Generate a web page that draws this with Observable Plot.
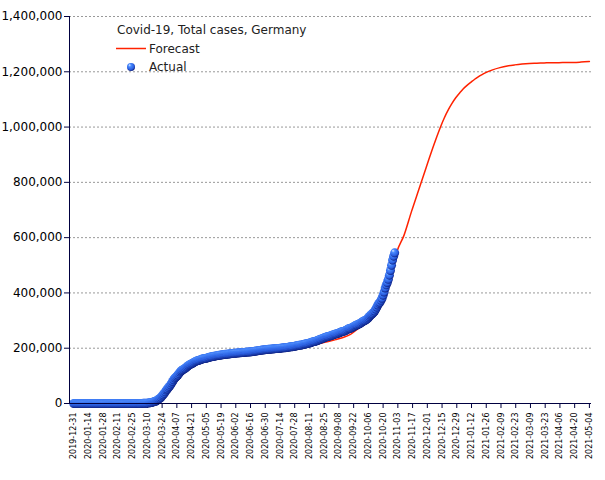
<!DOCTYPE html>
<html><head><meta charset="utf-8">
<script src="https://cdn.jsdelivr.net/npm/d3@7"></script>
<script src="https://cdn.jsdelivr.net/npm/@observablehq/plot@0.6"></script>
<style>
body{margin:0;background:#fff;}
#wrap{position:relative;width:605px;height:480px;font-family:"DejaVu Sans",sans-serif;}
#wrap svg.plot text{fill:#000;}
#legend{position:absolute;left:0;top:0;pointer-events:none;}
#legend text{font-family:"DejaVu Sans",sans-serif;font-size:12px;fill:#222;}
</style></head><body>
<div id="wrap">
<svg id="legend" width="605" height="100">
  <defs>
    <radialGradient id="ballLegend" cx="0.45" cy="0.4" r="0.6" fx="0.3" fy="0.25">
      <stop offset="0" stop-color="#e0ecff"/>
      <stop offset="0.3" stop-color="#4a8cff"/>
      <stop offset="0.75" stop-color="#2a5ee0"/>
      <stop offset="1" stop-color="#0c1f80"/>
    </radialGradient>
  </defs>
  <text x="117" y="34">Covid-19, Total cases, Germany</text>
  <line x1="116" x2="146" y1="48.5" y2="48.5" stroke="#ff2200" stroke-width="1.5"/>
  <text x="149" y="53">Forecast</text>
  <circle cx="131" cy="67" r="4" fill="url(#ballLegend)"/>
  <text x="149" y="71">Actual</text>
</svg>
</div>
<script>
// ---- data ----
const xTickLabels = ["2019-12-31","2020-01-14","2020-01-28","2020-02-11","2020-02-25","2020-03-10","2020-03-24","2020-04-07","2020-04-21","2020-05-05","2020-05-19","2020-06-02","2020-06-16","2020-06-30","2020-07-14","2020-07-28","2020-08-11","2020-08-25","2020-09-08","2020-09-22","2020-10-06","2020-10-20","2020-11-03","2020-11-17","2020-12-01","2020-12-15","2020-12-29","2021-01-12","2021-01-26","2021-02-09","2021-02-23","2021-03-09","2021-03-23","2021-04-06","2021-04-20","2021-05-04"];
const yTicks = [0,200000,400000,600000,800000,1000000,1200000,1400000];

// Actual total cases, one value per day starting 2019-12-31
const actualStart = "2019-12-31";
const actualDec2019 = [0];
const actualJan = [0,0,0,0,0,0,0,0,0,0,0,0,0,0,0,0,0,0,0,0,0,0,0,0,0,0,0,1,4,4,5];
const actualFeb = [7,8,10,12,12,12,13,14,14,14,16,16,16,16,16,16,16,16,16,16,16,16,16,16,18,21,26,53,66];
const actualMar = [117,150,188,240,400,639,795,902,1139,1296,1567,2369,3062,3795,4838,6012,7156,8198,10999,13957,16662,18610,22672,27436,31554,36508,42288,48582,52547,57298,61913];
const actualApr = [67366,73522,79696,85778,91714,95391,99225,103228,108202,113525,117658,120479,123016,125098,127584,130450,133830,137439,139897,141672,143457,145694,148046,150383,152438,154175,155193,156337,157641,159119];
const actualMay = [160758,161703,162496,163175,163860,164807,166091,167300,168551,169218,169575,170508,171306,172239,173152,173772,174355,174697,175210,176007,176752,177212,177850,178281,178570,179002,179364,179717,180458,181196,181482];
const actualJun = [181815,182028,182370,182764,183271,183678,183979,184193,184543,184861,185416,185674,186022,186269,186461,186839,187184,187764,188534,189135,189822,190359,190862,191449,192079,192556,193243,193499,194259,194725];
const actualJul = [195228,195674,196096,196335,196554,196944,197341,197783,198178,198556,198804,199001,199376,199726,200260,200843,201450,201574,201823,202345,202799,203368,204183,204964,205269,205609,206242,206926,207828,208698,209653];
const actualAug = [210402,210670,211281,212022,213067,214214,215336,216196,216636,217293,218519,219964,221413,222828,224014,224488,225404,226914,228621,230048,232082,232864,234494,236122,237583,239010,240571,242126,242381,243599,244802];
const actualSep = [246166,247411,248997,250799,251728,252298,253474,254957,256850,258480,260355,260817,261737,263222,265228,267773,270070,271415,272337,273494,275927,278070,280223,282730,284140,285332,287421,289219,291722,294395];
const actualOct = [296958,299237,300619,303258,306086,310144,314660,319381,322864,325331,329453,334585,341223,348557,356387,361974,366299,373167,380762,392049,403291,418005,429181,437866,449275,464239,481013,499694,518753,532930,545027];

// Forecast total cases
const forecastDates = ["2020-08-01","2020-08-08","2020-08-15","2020-08-22","2020-08-29","2020-09-05","2020-09-12","2020-09-19","2020-09-26","2020-10-03","2020-10-10","2020-10-17","2020-10-24","2020-10-31","2020-11-02","2020-11-09","2020-11-16","2020-11-23","2020-11-30","2020-12-07","2020-12-10","2020-12-14","2020-12-17","2020-12-21","2020-12-24","2020-12-28","2021-01-01","2021-01-04","2021-01-08","2021-01-11","2021-01-15","2021-01-18","2021-01-22","2021-01-25","2021-02-01","2021-02-08","2021-02-15","2021-02-22","2021-03-01","2021-03-08","2021-03-15","2021-03-22","2021-03-29","2021-04-05","2021-04-12","2021-04-19","2021-04-26","2021-05-04"];
const forecastValues = [205000,209000,213000,218000,224000,231000,239000,250000,270000,292000,318000,355000,420000,520000,548000,610000,695000,775000,855000,933000,965000,1005000,1032000,1063000,1083000,1106000,1125000,1138000,1152000,1161000,1173000,1181000,1190000,1196000,1207000,1215000,1221000,1225000,1228000,1230000,1231000,1232000,1233000,1233000,1234000,1234000,1235000,1237000];

// ---- build ----
const parse = d3.utcParse("%Y-%m-%d");
const actualValues = [].concat(actualDec2019, actualJan, actualFeb, actualMar, actualApr, actualMay, actualJun, actualJul, actualAug, actualSep, actualOct);
const start = parse(actualStart);
const actual = actualValues.map((v, i) => ({date: d3.utcDay.offset(start, i), value: v}));
const forecast = forecastDates.map((d, i) => ({date: parse(d), value: forecastValues[i]}));
const xTicks = xTickLabels.map(parse);
const xDomain = [parse("2019-12-27"), parse("2021-05-06")];

const chart = Plot.plot({
  width: 605, height: 480,
  marginLeft: 69, marginRight: 14, marginTop: 16, marginBottom: 77,
  style: {fontFamily: "DejaVu Sans", fontSize: "12px", color: "#000040", background: "transparent", overflow: "visible"},
  x: {type: "utc", domain: xDomain, ticks: xTicks, tickFormat: d3.utcFormat("%Y-%m-%d"), tickRotate: -90, tickSize: 5, tickPadding: 4, label: null},
  y: {domain: [0, 1400000], ticks: yTicks, tickFormat: d3.format(","), tickSize: 5, tickPadding: 2, label: null},
  marks: [
    Plot.ruleY(yTicks, {stroke: "#999", strokeDasharray: "2,2", strokeWidth: 1}),
    Plot.line(forecast, {x: "date", y: "value", stroke: "#ff2200", strokeWidth: 1.5, curve: "monotone-x"}),
    Plot.dot(actual, {x: "date", y: "value", r: 4.5, fill: "url(#ball)", stroke: "none"}),
    Plot.ruleX([xDomain[0]], {stroke: "#000040"}),
    Plot.ruleY([0], {stroke: "#000040"})
  ]
});
chart.classList.add("plot");
const defs = document.createElementNS("http://www.w3.org/2000/svg", "defs");
defs.innerHTML = '<radialGradient id="ball" cx="0.45" cy="0.4" r="0.6" fx="0.3" fy="0.25">' +
  '<stop offset="0" stop-color="#e0ecff"/><stop offset="0.3" stop-color="#4a8cff"/>' +
  '<stop offset="0.75" stop-color="#2a5ee0"/><stop offset="1" stop-color="#0c1f80"/></radialGradient>';
chart.insertBefore(defs, chart.firstChild);
d3.select(chart).selectAll('[aria-label^="x-axis"] text').style("font-size", "8px");
const wrap = document.getElementById("wrap");
wrap.insertBefore(chart, wrap.firstChild);
</script>
</body></html>
